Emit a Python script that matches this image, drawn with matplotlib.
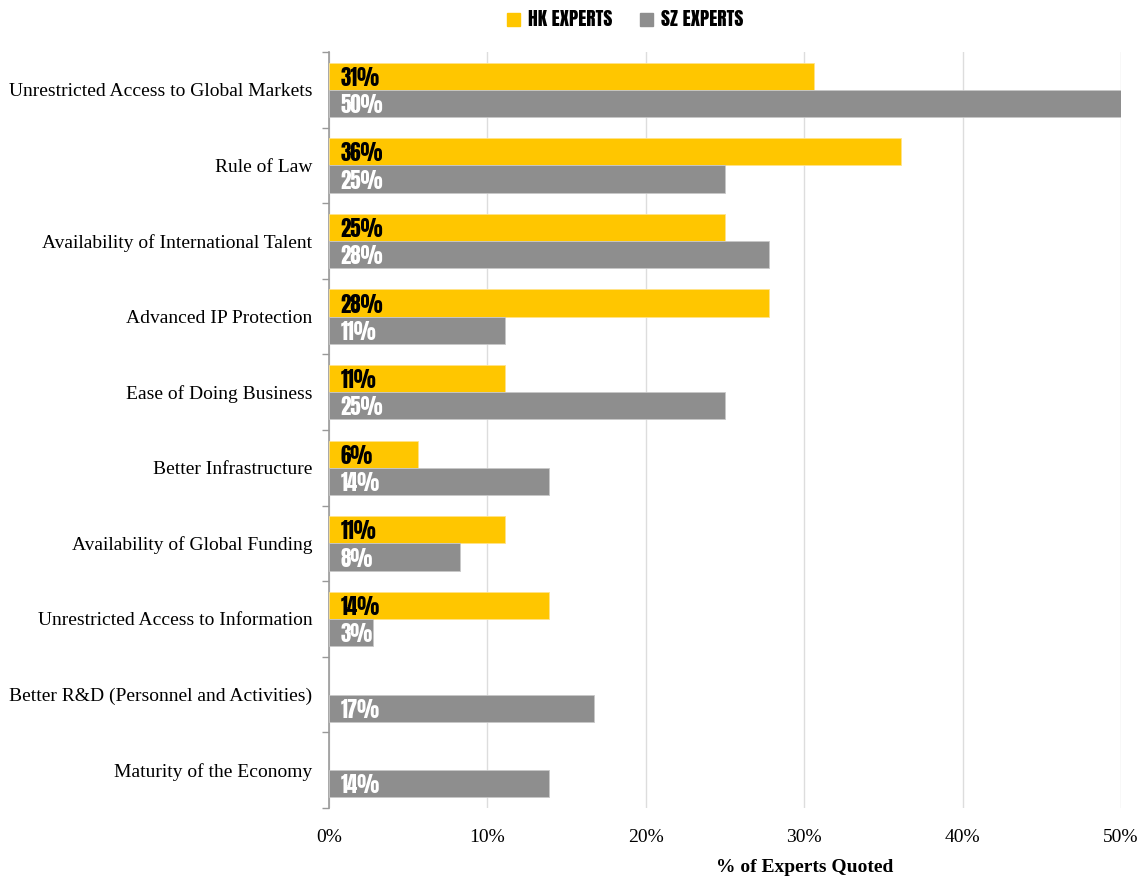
import numpy as np
import matplotlib.pyplot as plt
from matplotlib import font_manager
from matplotlib.ticker import FixedLocator, PercentFormatter

categories = [
    "Unrestricted Access to Global Markets",
    "Rule of Law",
    "Availability of International Talent",
    "Advanced IP Protection",
    "Ease of Doing Business",
    "Better Infrastructure",
    "Availability of Global Funding",
    "Unrestricted Access to Information",
    "Better R&D (Personnel and Activities)",
    "Maturity of the Economy",
]
hk_values = [30.6, 36.1, 25.0, 27.8, 11.1, 5.6, 11.1, 13.9, np.nan, np.nan]
sz_values = [50.0, 25.0, 27.8, 11.1, 25.0, 13.9, 8.3, 2.8, 16.7, 13.9]
series_names = ["HK EXPERTS", "SZ EXPERTS"]

YELLOW = "#FFC600"
GRAY = "#8E8E8E"

# condensed heavy face for the labels (Impact-like in the original)
names = {f.name for f in font_manager.fontManager.ttflist}
narrow = next((n for n in ["Anton", "Barlow Condensed", "Asap Condensed"] if n in names),
              "DejaVu Sans")
serif = "Liberation Serif"

fig = plt.figure(figsize=(11.43, 8.77), dpi=100)
ax = fig.add_axes([0.2878, 0.0787, 0.6930, 0.8620])

n = len(categories)
y = np.arange(n)
h = 0.36
ax.barh(y - h / 2, hk_values, height=h, color=YELLOW, edgecolor="#FFE38A", linewidth=0.6, zorder=3)
ax.barh(y + h / 2, sz_values, height=h, color=GRAY, edgecolor="#C8C8C8", linewidth=0.6, zorder=3)

fs = 15 if narrow == "Anton" else 16
lab_kw = dict(ha="left", va="center", fontsize=fs, fontweight=800, family=narrow, zorder=4)
for i in range(n):
    if not np.isnan(hk_values[i]):
        ax.text(0.75, y[i] - h / 2 + 0.02, f"{hk_values[i]:.0f}%", color="black", **lab_kw)
    ax.text(0.75, y[i] + h / 2 + 0.02, f"{sz_values[i]:.0f}%", color="white", **lab_kw)

ax.set_xlim(0, 50)
ax.set_ylim(n - 0.5, -0.5)
ax.set_xticks(np.arange(0, 51, 10))
ax.xaxis.set_major_formatter(PercentFormatter(decimals=0))
ax.grid(axis="x", color="#DDDDDD", linewidth=1, zorder=0)
ax.set_axisbelow(True)

ax.set_yticks(y)
ax.set_yticklabels(categories, family=serif, fontsize=14)
ax.tick_params(axis="y", which="major", length=0, pad=12)
ax.yaxis.set_minor_locator(FixedLocator(np.arange(-0.5, n, 1)))
ax.tick_params(axis="y", which="minor", length=5, color="#999999", width=1)
ax.tick_params(axis="x", length=0, pad=15)
for lab in ax.get_xticklabels():
    lab.set_family(serif)
    lab.set_fontsize(14)

for s in ["top", "right", "bottom"]:
    ax.spines[s].set_visible(False)
ax.spines["left"].set_color("#999999")
ax.spines["left"].set_linewidth(1.2)

ax.text(0.6, -0.068, "% of Experts Quoted", transform=ax.transAxes, ha="center", va="top",
        family=serif, fontsize=14, fontweight="bold")

handles = [plt.Rectangle((0, 0), 1, 1, color=YELLOW), plt.Rectangle((0, 0), 1, 1, color=GRAY)]
fig.legend(handles, series_names, loc="center", bbox_to_anchor=(0.547, 0.978), ncol=2,
           frameon=False, handlelength=0.7, handleheight=0.7, handletextpad=0.4,
           columnspacing=1.4, prop={"family": narrow, "weight": 800, "size": 14})

fig.savefig("out.png", dpi=100)
